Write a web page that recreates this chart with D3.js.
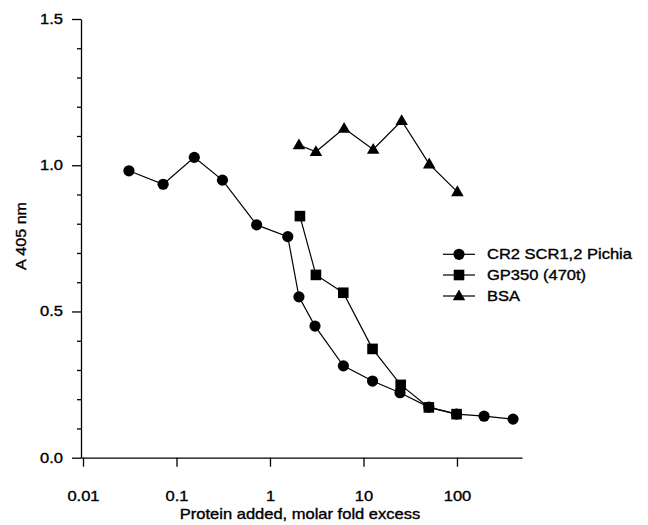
<!DOCTYPE html>
<html>
<head>
<meta charset="utf-8">
<script src="https://cdn.jsdelivr.net/npm/d3@7"></script>
<style>
  html, body { margin: 0; padding: 0; background: #fff; }
  svg { display: block; }
  text { font-family: "Liberation Sans", Arial, sans-serif; fill: #000; stroke: #000; stroke-width: 0.35px; }
</style>
</head>
<body>
<div id="chart"></div>
<script>
// Binding competition: A405 vs. molar fold excess of competitor protein
const cr2X = [0.031, 0.072, 0.155, 0.31, 0.72, 1.55, 2.04, 3.03, 6.1, 12.5, 24.6, 50, 99, 195, 398];
const cr2Y = [0.981, 0.935, 1.027, 0.949, 0.796, 0.756, 0.550, 0.450, 0.314, 0.262, 0.222, 0.173, 0.149, 0.142, 0.132];

const gpX = [2.09, 3.1, 6.08, 12.5, 25, 50, 99];
const gpY = [0.826, 0.625, 0.564, 0.372, 0.249, 0.172, 0.149];

const bsaX = [2.04, 3.1, 6.2, 12.7, 25.6, 50.5, 101];
const bsaY = [1.069, 1.046, 1.126, 1.054, 1.152, 1.004, 0.909];

const seriesNames = ["CR2 SCR1,2 Pichia", "GP350 (470t)", "BSA"];
const seriesShapes = ["circle", "square", "triangle"];

const xTicks = [0.01, 0.1, 1, 10, 100];
const xTickLabels = ["0.01", "0.1", "1", "10", "100"];
const yTicks = [0.0, 0.5, 1.0, 1.5];
const yTickLabels = ["0.0", "0.5", "1.0", "1.5"];
const yMinorTicks = [0.1, 0.2, 0.3, 0.4, 0.6, 0.7, 0.8, 0.9, 1.1, 1.2, 1.3, 1.4];

const xTitle = "Protein added, molar fold excess";
const yTitle = "A 405 nm";

const W = 648, H = 525;
const SX = 1.18; // horizontal stretch of the lettering

const svg = d3.select("#chart").append("svg")
  .attr("width", W).attr("height", H);

const x = d3.scaleLog().domain([0.00952, 496]).range([81, 522]);
const y = d3.scaleLinear().domain([0, 1.5]).range([457.7, 19]);

// Axes
const xAxis = d3.axisBottom(x).tickValues(xTicks)
  .tickFormat((d, i) => xTickLabels[i]).tickSize(9).tickSizeOuter(0).tickPadding(24);
const gx = svg.append("g").attr("transform", `translate(0,${y(0)})`).call(xAxis);

const yAxis = d3.axisLeft(y).tickValues(yTicks)
  .tickFormat((d, i) => yTickLabels[i]).tickSize(9).tickSizeOuter(0).tickPadding(9);
const gy = svg.append("g").attr("transform", `translate(${x.range()[0]},0)`).call(yAxis);

svg.append("g").attr("transform", `translate(${x.range()[0]},0)`)
  .call(d3.axisLeft(y).tickValues(yMinorTicks).tickFormat("").tickSize(4).tickSizeOuter(0))
  .select(".domain").remove();

svg.selectAll(".domain, .tick line").attr("stroke", "#000").attr("stroke-width", 1.3);

gx.selectAll(".tick text")
  .attr("font-size", 14)
  .attr("transform", `scale(${SX},1)`)
  .attr("font-family", "Liberation Sans, Arial, sans-serif");
gy.selectAll(".tick text")
  .attr("font-size", 14)
  .attr("x", -18 / SX)
  .attr("transform", `scale(${SX},1)`)
  .attr("font-family", "Liberation Sans, Arial, sans-serif");

// Axis titles
svg.append("text")
  .attr("transform", `translate(300,519) scale(${SX},1)`)
  .attr("text-anchor", "middle").attr("font-size", 14)
  .text(xTitle);

svg.append("text")
  .attr("transform", "translate(26,236) rotate(-90)")
  .attr("text-anchor", "middle").attr("font-size", 15)
  .attr("textLength", 68).attr("lengthAdjust", "spacingAndGlyphs")
  .text(yTitle);

// Marker drawing
function drawMarker(g, shape, cx, cy) {
  if (shape === "circle") {
    g.append("circle").attr("cx", cx).attr("cy", cy).attr("r", 5.6).attr("fill", "#000");
  } else if (shape === "square") {
    g.append("rect").attr("x", cx - 5.3).attr("y", cy - 5.3)
      .attr("width", 10.6).attr("height", 10.6).attr("fill", "#000");
  } else {
    const s = 12.5, h = 10.8;
    g.append("path")
      .attr("d", `M${cx},${cy - h * 0.6}L${cx + s / 2},${cy + h * 0.4}L${cx - s / 2},${cy + h * 0.4}Z`)
      .attr("fill", "#000");
  }
}

const series = [
  { xs: cr2X, ys: cr2Y },
  { xs: gpX, ys: gpY },
  { xs: bsaX, ys: bsaY }
];

const line = d3.line().x(d => x(d[0])).y(d => y(d[1]));

// Draw lines first, then markers on top
series.forEach((s) => {
  const pts = s.xs.map((v, i) => [v, s.ys[i]]);
  svg.append("path").datum(pts)
    .attr("d", line).attr("fill", "none")
    .attr("stroke", "#000").attr("stroke-width", 1.2);
});
series.forEach((s, k) => {
  const g = svg.append("g");
  s.xs.forEach((v, i) => drawMarker(g, seriesShapes[k], x(v), y(s.ys[i])));
});

// Legend
const legendRows = [254.3, 275, 296];
seriesNames.forEach((name, k) => {
  const g = svg.append("g");
  const ly = legendRows[k];
  g.append("line").attr("x1", 443).attr("x2", 475).attr("y1", ly).attr("y2", ly)
    .attr("stroke", "#000").attr("stroke-width", 1.2);
  drawMarker(g, seriesShapes[k], 459, ly);
  g.append("text")
    .attr("transform", `translate(487,${ly + 5}) scale(${SX},1)`)
    .attr("font-size", 14)
    .text(name);
});
</script>
</body>
</html>
